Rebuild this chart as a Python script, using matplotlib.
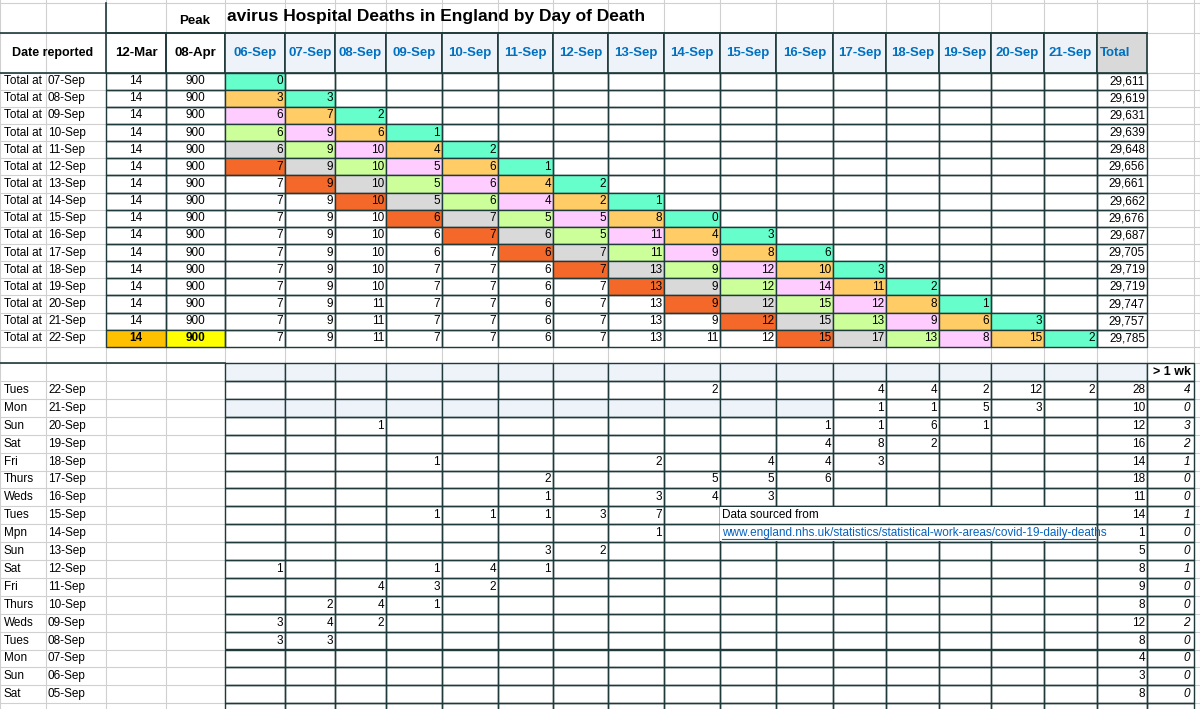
import numpy as np
import matplotlib.pyplot as plt
from matplotlib.patches import Rectangle

plt.rcParams['font.family'] = ['Liberation Sans Narrow', 'Liberation Sans', 'DejaVu Sans']

day_cols = ["06-Sep", "07-Sep", "08-Sep", "09-Sep", "10-Sep", "11-Sep", "12-Sep", "13-Sep",
            "14-Sep", "15-Sep", "16-Sep", "17-Sep", "18-Sep", "19-Sep", "20-Sep", "21-Sep"]
report_dates = ["07-Sep", "08-Sep", "09-Sep", "10-Sep", "11-Sep", "12-Sep", "13-Sep", "14-Sep",
                "15-Sep", "16-Sep", "17-Sep", "18-Sep", "19-Sep", "20-Sep", "21-Sep", "22-Sep"]
mar12 = [14] * 16
apr08 = [900] * 16
cumulative = [
    [0],
    [3, 3],
    [6, 7, 2],
    [6, 9, 6, 1],
    [6, 9, 10, 4, 2],
    [7, 9, 10, 5, 6, 1],
    [7, 9, 10, 5, 6, 4, 2],
    [7, 9, 10, 5, 6, 4, 2, 1],
    [7, 9, 10, 6, 7, 5, 5, 8, 0],
    [7, 9, 10, 6, 7, 6, 5, 11, 4, 3],
    [7, 9, 10, 6, 7, 6, 7, 11, 9, 8, 6],
    [7, 9, 10, 7, 7, 6, 7, 13, 9, 12, 10, 3],
    [7, 9, 10, 7, 7, 6, 7, 13, 9, 12, 14, 11, 2],
    [7, 9, 11, 7, 7, 6, 7, 13, 9, 12, 15, 12, 8, 1],
    [7, 9, 11, 7, 7, 6, 7, 13, 9, 12, 15, 13, 9, 6, 3],
    [7, 9, 11, 7, 7, 6, 7, 13, 11, 12, 15, 17, 13, 8, 15, 2],
]
totals = ["29,611", "29,619", "29,631", "29,639", "29,648", "29,656", "29,661", "29,662",
          "29,676", "29,687", "29,705", "29,719", "29,719", "29,747", "29,757", "29,785"]

# bottom table: reported per day, {day column: value}
weekdays = ["Tues", "Mon", "Sun", "Sat", "Fri", "Thurs", "Weds", "Tues", "Mpn", "Sun", "Sat",
            "Fri", "Thurs", "Weds", "Tues", "Mon", "Sun", "Sat"]
bottom_dates = ["22-Sep", "21-Sep", "20-Sep", "19-Sep", "18-Sep", "17-Sep", "16-Sep", "15-Sep",
                "14-Sep", "13-Sep", "12-Sep", "11-Sep", "10-Sep", "09-Sep", "08-Sep", "07-Sep",
                "06-Sep", "05-Sep"]
bottom_vals = [
    {"14-Sep": 2, "17-Sep": 4, "18-Sep": 4, "19-Sep": 2, "20-Sep": 12, "21-Sep": 2},
    {"17-Sep": 1, "18-Sep": 1, "19-Sep": 5, "20-Sep": 3},
    {"08-Sep": 1, "16-Sep": 1, "17-Sep": 1, "18-Sep": 6, "19-Sep": 1},
    {"16-Sep": 4, "17-Sep": 8, "18-Sep": 2},
    {"09-Sep": 1, "13-Sep": 2, "15-Sep": 4, "16-Sep": 4, "17-Sep": 3},
    {"11-Sep": 2, "14-Sep": 5, "15-Sep": 5, "16-Sep": 6},
    {"11-Sep": 1, "13-Sep": 3, "14-Sep": 4, "15-Sep": 3},
    {"09-Sep": 1, "10-Sep": 1, "11-Sep": 1, "12-Sep": 3, "13-Sep": 7},
    {"13-Sep": 1},
    {"11-Sep": 3, "12-Sep": 2},
    {"06-Sep": 1, "09-Sep": 1, "10-Sep": 4, "11-Sep": 1},
    {"08-Sep": 4, "09-Sep": 3, "10-Sep": 2},
    {"07-Sep": 2, "08-Sep": 4, "09-Sep": 1},
    {"06-Sep": 3, "07-Sep": 4, "08-Sep": 2},
    {"06-Sep": 3, "07-Sep": 3},
    {}, {}, {},
]
bottom_totals = [28, 10, 12, 16, 14, 18, 11, 14, 1, 5, 8, 9, 8, 12, 8, 4, 3, 8]
over_week = [4, 0, 3, 2, 1, 0, 0, 1, 0, 0, 1, 0, 0, 2, 0, 0, 0, 0]

diag_colors = ["#66FFCC", "#FFCC66", "#FFCCFF", "#CCFF99", "#D9D9D9", "#F4692A"]

# layout (pixels)
W, H = 1200, 709
xb = [0, 46, 106, 166, 225, 285, 335, 386, 442, 498, 553, 608, 664, 720, 776, 833, 886,
      939, 991, 1044, 1097, 1147, 1194]
top_y0, top_h = 72.5, 17.15
bot_y0, bot_h = 381.0, 17.9
head_col = "#EEF3FA"
border = "#1F3A3A"

fig = plt.figure(figsize=(12, 7.09), dpi=100)
ax = fig.add_axes([0, 0, 1, 1])
ax.set_xlim(0, W)
ax.set_ylim(H, 0)
ax.axis("off")

def cell(x0, x1, y0, y1, fc="none", ec=border, lw=1.0):
    ax.add_patch(Rectangle((x0, y0), x1 - x0, y1 - y0, facecolor=fc, edgecolor=ec, linewidth=lw))

# spreadsheet gridlines
for x in xb + [1200]:
    ax.plot([x, x], [0, H], color="#D0D0D0", lw=0.8, zorder=0)
for y in [3, 33] + list(top_y0 + top_h * np.arange(17)) + [363] + list(bot_y0 + bot_h * np.arange(20)):
    ax.plot([0, W], [y, y], color="#D0D0D0", lw=0.8, zorder=0)

fs = 8.5
# headers
ax.text(53, 53, "Date reported", ha="center", va="center", fontsize=9, fontweight="bold")
cell(106, 166, 33, top_y0, lw=1.2)
cell(166, 225, 33, top_y0, lw=1.2)
ax.plot([106, 106], [3, 33], color=border, lw=1.2)
ax.plot([0, 1147], [33, 33], color=border, lw=1.2)
ax.text(136, 53, "12-Mar", ha="center", va="center", fontsize=9.5, fontweight="bold")
ax.text(195, 53, "08-Apr", ha="center", va="center", fontsize=9.5, fontweight="bold")
ax.text(195, 21, "Peak", ha="center", va="center", fontsize=9.5, fontweight="bold")
ax.text(227, 16, "avirus Hospital Deaths in England by Day of Death", ha="left", va="center",
        fontsize=12.5, fontweight="bold", family=["Liberation Sans", "DejaVu Sans"])
for j, lab in enumerate(day_cols):
    cell(xb[4 + j], xb[5 + j], 33, top_y0, fc=head_col, lw=1.2)
    ax.text((xb[4 + j] + xb[5 + j]) / 2, 53, lab, ha="center", va="center", fontsize=9.5,
            color="#0070C0", fontweight="bold")
cell(1097, 1147, 33, top_y0, fc="#D9D9D9", lw=1.2)
ax.text(1100, 53, "Total", ha="left", va="center", fontsize=9.5, color="#0070C0", fontweight="bold")
ax.plot([0, 106], [top_y0, top_y0], color=border, lw=1.2)

# top table rows
for i, rd in enumerate(report_dates):
    y0 = top_y0 + i * top_h
    y1 = y0 + top_h
    yc = (y0 + y1) / 2
    ax.text(4, yc, "Total at", ha="left", va="center", fontsize=fs)
    ax.text(48, yc, rd, ha="left", va="center", fontsize=fs)
    last = i == len(report_dates) - 1
    cell(106, 166, y0, y1, fc="#FFC000" if last else "none")
    cell(166, 225, y0, y1, fc="#FFFF00" if last else "none")
    ax.text(136, yc, str(mar12[i]), ha="center", va="center", fontsize=fs,
            fontweight="bold" if last else "normal")
    ax.text(195, yc, str(apr08[i]), ha="center", va="center", fontsize=fs,
            fontweight="bold" if last else "normal")
    for j in range(16):
        fc = "none"
        if j < len(cumulative[i]):
            d = i - j
            if d < len(diag_colors):
                fc = diag_colors[d]
        cell(xb[4 + j], xb[5 + j], y0, y1, fc=fc)
        if j < len(cumulative[i]):
            ax.text(xb[5 + j] - 2, yc, str(cumulative[i][j]), ha="right", va="center", fontsize=fs)
    cell(1097, 1147, y0, y1)
    ax.text(1145, yc, totals[i], ha="right", va="center", fontsize=fs)

# bottom table
ax.plot([0, 225], [363, 363], color=border, lw=1.2)
for j in range(18):
    cell(xb[4 + j], xb[5 + j], 363, bot_y0, fc=head_col if j < 17 else "white")
ax.text(1191, 372, "> 1 wk", ha="right", va="center", fontsize=9, fontweight="bold")
for i, (wd, bd) in enumerate(zip(weekdays, bottom_dates)):
    y0 = bot_y0 + i * bot_h
    y1 = y0 + bot_h
    yc = (y0 + y1) / 2
    ax.text(4, yc, wd, ha="left", va="center", fontsize=fs)
    ax.text(48, yc, bd, ha="left", va="center", fontsize=fs)
    for j, c in enumerate(day_cols):
        fc = head_col if (i == 1 and j < 11) else "none"
        cell(xb[4 + j], xb[5 + j], y0, y1, fc=fc)
        if c in bottom_vals[i]:
            ax.text(xb[5 + j] - 2, yc, str(bottom_vals[i][c]), ha="right", va="center", fontsize=fs)
    cell(1097, 1147, y0, y1)
    cell(1147, 1194, y0, y1)
    ax.text(1145, yc, str(bottom_totals[i]), ha="right", va="center", fontsize=fs)
    ax.text(1190, yc, str(over_week[i]), ha="right", va="center", fontsize=fs, style="italic")
# partial last row
for j in range(18):
    cell(xb[4 + j], xb[5 + j], bot_y0 + 18 * bot_h, bot_y0 + 19 * bot_h)

# source note (covers cells)
sy = bot_y0 + 7 * bot_h
ax.add_patch(Rectangle((720, sy + 1), 376, 2 * bot_h - 2, facecolor="white", edgecolor="none", zorder=3))
ax.plot([720, 1097], [sy + bot_h, sy + bot_h], color=border, lw=1.0, zorder=4)
ax.text(722, sy + bot_h / 2, "Data sourced from", ha="left", va="center", fontsize=fs, zorder=5)
ax.text(722, sy + 1.5 * bot_h, "www.england.nhs.uk/statistics/statistical-work-areas/covid-19-daily-deaths",
        ha="left", va="center", fontsize=fs, color="#0563C1", zorder=5)
ax.plot([722, 1095], [sy + 1.5 * bot_h + 6, sy + 1.5 * bot_h + 6], color="#0563C1", lw=0.8, zorder=5)

fig.savefig("out.png", dpi=100)
